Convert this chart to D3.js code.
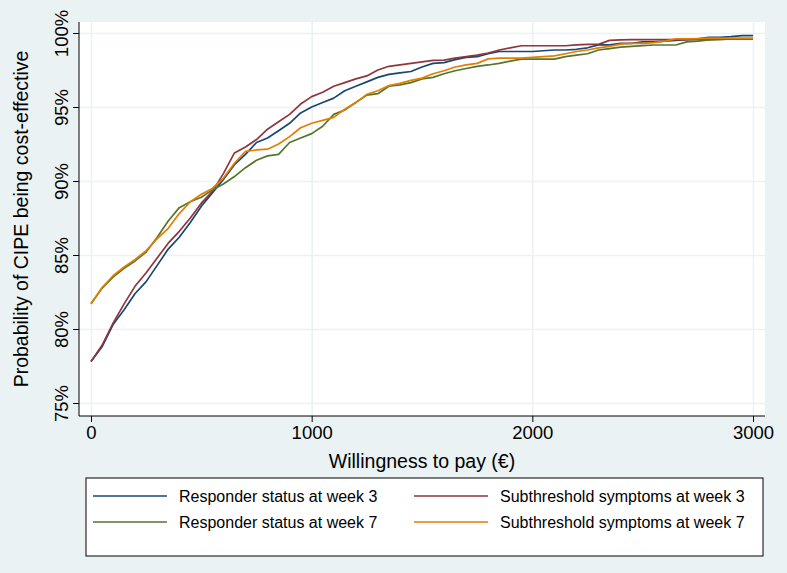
<!DOCTYPE html>
<html>
<head>
<meta charset="utf-8">
<script src="https://cdn.jsdelivr.net/npm/d3@7"></script>
<style>
  html, body { margin: 0; padding: 0; background: #eaf2f3; }
  svg { display: block; font-family: "Liberation Sans", Arial, sans-serif; }
</style>
</head>
<body>
<div id="chart"></div>
<script>
// willingness to pay (€), one point every 50
const wtp = d3.range(0, 3001, 50);

const respWeek3 = [77.8, 78.8, 80.3, 81.3, 82.4, 83.2, 84.3, 85.4, 86.2, 87.2, 88.3, 89.2, 90.1, 91.1, 91.8, 92.6, 92.9, 93.4, 93.9, 94.6, 95.0,
  95.3, 95.6, 96.1, 96.4, 96.7, 97.0, 97.2, 97.3, 97.4, 97.7, 97.95, 98.0, 98.2, 98.35, 98.4, 98.6, 98.75, 98.75, 98.75, 98.75,
  98.8, 98.85, 98.85, 98.9, 99.0, 99.2, 99.2, 99.3, 99.3, 99.4, 99.4, 99.45, 99.5, 99.55, 99.6, 99.7, 99.7, 99.75, 99.82, 99.82];
const subWeek3 = [77.8, 78.9, 80.4, 81.7, 82.9, 83.8, 84.8, 85.8, 86.6, 87.5, 88.5, 89.3, 90.5, 91.9, 92.3, 92.8, 93.5, 94.0, 94.5, 95.2, 95.7,
  96.0, 96.4, 96.65, 96.9, 97.1, 97.5, 97.75, 97.85, 97.95, 98.05, 98.15, 98.17, 98.3, 98.4, 98.5, 98.65, 98.85, 99.0, 99.14, 99.14,
  99.14, 99.14, 99.14, 99.2, 99.23, 99.23, 99.5, 99.53, 99.55, 99.55, 99.55, 99.55, 99.55, 99.55, 99.55, 99.55, 99.6, 99.6, 99.6, 99.6];
const respWeek7 = [81.7, 82.75, 83.5, 84.1, 84.6, 85.2, 86.2, 87.3, 88.2, 88.6, 88.9, 89.4, 89.8, 90.3, 90.9, 91.4, 91.7, 91.8, 92.6, 92.9, 93.2,
  93.7, 94.5, 94.8, 95.3, 95.8, 95.9, 96.4, 96.5, 96.65, 96.9, 97.0, 97.25, 97.45, 97.6, 97.75, 97.84, 97.95, 98.1, 98.24, 98.24,
  98.24, 98.24, 98.4, 98.5, 98.6, 98.85, 98.95, 99.05, 99.1, 99.15, 99.19, 99.19, 99.19, 99.4, 99.45, 99.53, 99.55, 99.6, 99.6, 99.6];
const subWeek7 = [81.7, 82.8, 83.6, 84.2, 84.7, 85.3, 86.1, 86.8, 87.8, 88.6, 89.1, 89.5, 90.2, 91.2, 92.0, 92.1, 92.15, 92.5, 93.0, 93.6, 93.9,
  94.1, 94.3, 94.85, 95.3, 95.85, 96.1, 96.45, 96.6, 96.8, 96.95, 97.25, 97.45, 97.7, 97.85, 97.95, 98.25, 98.3, 98.3, 98.3, 98.35,
  98.4, 98.45, 98.6, 98.75, 98.85, 99.0, 99.1, 99.25, 99.3, 99.3, 99.35, 99.45, 99.6, 99.6, 99.62, 99.65, 99.65, 99.66, 99.66, 99.66];

const seriesNames = ["Responder status at week 3", "Subthreshold symptoms at week 3",
  "Responder status at week 7", "Subthreshold symptoms at week 7"];
const seriesValues = [respWeek3, subWeek3, respWeek7, subWeek7];
const seriesColors = ["#1a476f", "#90353b", "#55752f", "#e37e00"];

const xTicks = [0, 1000, 2000, 3000];
const yTicks = [75, 80, 85, 90, 95, 100];

const W = 787, H = 573;
const plot = { left: 79, right: 765, top: 22, bottom: 416 };

const svg = d3.select("#chart").append("svg")
  .attr("width", W).attr("height", H);

svg.append("rect").attr("width", W).attr("height", H).attr("fill", "#eaf2f3");
svg.append("rect")
  .attr("x", plot.left).attr("y", plot.top)
  .attr("width", plot.right - plot.left).attr("height", plot.bottom - plot.top)
  .attr("fill", "#fff");

const x = d3.scaleLinear().domain([0, 3000]).range([91, 753]);
const y = d3.scaleLinear().domain([75, 100]).range([403, 33]);

// grid
svg.append("g")
  .attr("transform", `translate(0,${plot.bottom})`)
  .call(d3.axisBottom(x).tickValues(xTicks).tickSize(-(plot.bottom - plot.top)).tickFormat(() => ""))
  .call(g => g.select(".domain").remove())
  .selectAll("line").attr("stroke", "#eaf2f3").attr("stroke-width", 1.6);
svg.append("g")
  .attr("transform", `translate(${plot.left},0)`)
  .call(d3.axisLeft(y).tickValues(yTicks).tickSize(-(plot.right - plot.left)).tickFormat(() => ""))
  .call(g => g.select(".domain").remove())
  .selectAll("line").attr("stroke", "#eaf2f3").attr("stroke-width", 1.6);

// lines
const line = d3.line()
  .x((d, i) => x(wtp[i]))
  .y(d => y(d));
seriesValues.forEach((vals, i) => {
  svg.append("path")
    .datum(vals)
    .attr("fill", "none")
    .attr("stroke", seriesColors[i])
    .attr("stroke-width", 1.7)
    .attr("stroke-linejoin", "round")
    .attr("d", line);
});

// axes
const xAxis = svg.append("g")
  .attr("transform", `translate(0,${plot.bottom})`)
  .call(d3.axisBottom(x).tickValues(xTicks).tickSize(6).tickPadding(4).tickFormat(d3.format("d")));
xAxis.select(".domain").attr("d", `M${plot.left},0H${plot.right}`);
xAxis.selectAll("text").style("font-size", "18.5px").attr("fill", "#000");

const yAxis = svg.append("g")
  .attr("transform", `translate(${plot.left},0)`)
  .call(d3.axisLeft(y).tickValues(yTicks).tickSize(6).tickFormat(d => d + "%"));
yAxis.select(".domain").attr("d", `M0,${plot.top}V${plot.bottom}`);
yAxis.selectAll("text")
  .style("font-size", "18.5px").attr("fill", "#000")
  .attr("x", null).attr("dy", null)
  .attr("text-anchor", "middle")
  .attr("transform", "translate(-11,0) rotate(-90)");

svg.selectAll(".domain, .tick line").filter(function () { return this.getAttribute("stroke") === "currentColor"; })
  .attr("stroke", "#000").attr("stroke-width", 1);

// axis titles
svg.append("text")
  .attr("x", 422).attr("y", 468)
  .attr("text-anchor", "middle")
  .style("font-size", "19.5px")
  .text("Willingness to pay (€)");
svg.append("text")
  .attr("transform", "translate(28,219) rotate(-90)")
  .attr("text-anchor", "middle")
  .style("font-size", "19.5px")
  .text("Probability of CIPE being cost-effective");

// legend
const legend = svg.append("g");
legend.append("rect")
  .attr("x", 86).attr("y", 478).attr("width", 677).attr("height", 78)
  .attr("fill", "#fff").attr("stroke", "#000").attr("stroke-width", 1);
seriesNames.forEach((name, i) => {
  const col = i % 2, row = Math.floor(i / 2);
  const lx = col === 0 ? 93 : 414;
  const ly = row === 0 ? 496 : 522;
  legend.append("line")
    .attr("x1", lx).attr("x2", lx + 74).attr("y1", ly).attr("y2", ly)
    .attr("stroke", seriesColors[i]).attr("stroke-width", 1.7);
  legend.append("text")
    .attr("x", lx + 86).attr("y", ly).attr("dy", "0.35em")
    .style("font-size", "16px")
    .text(name);
});
</script>
</body>
</html>
